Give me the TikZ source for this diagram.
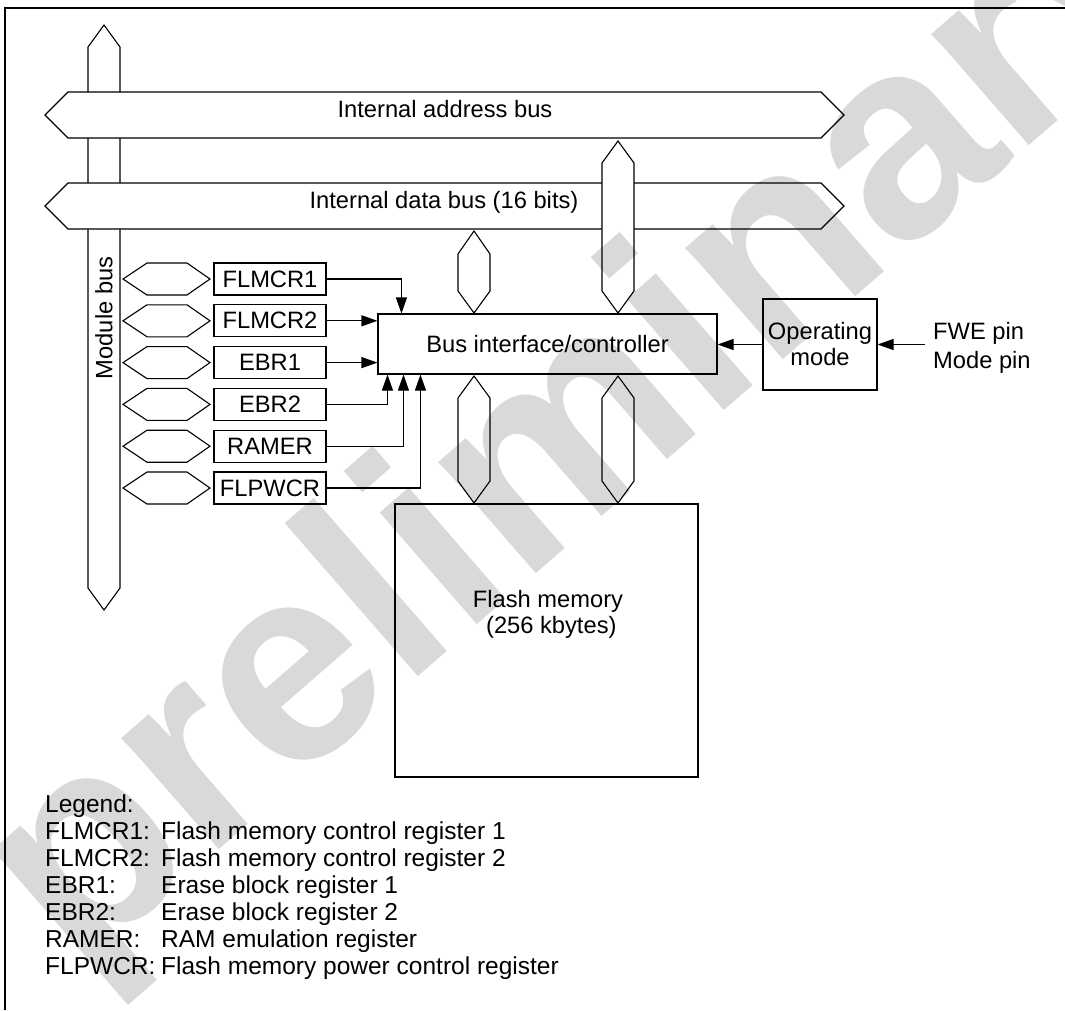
\documentclass[tikz,border=0pt]{standalone}
\usepackage{fontspec}
\setmainfont{Liberation Sans}
\usetikzlibrary{arrows.meta}
\definecolor{wmgray}{RGB}{217,217,217}
\begin{document}
\begin{tikzpicture}[x=1pt,y=-1pt,
  every node/.style={font=\fontsize{23.7}{26}\selectfont, inner sep=0pt},
  bus/.style={line width=1.1pt, fill=white, line join=miter},
  box/.style={draw, line width=1.1pt, fill=white},
  reg/.style={box, minimum width=112pt, minimum height=32pt},
  arr/.style={line width=1.1pt, -{Triangle[length=16pt,width=11pt]}},
  lgl/.style={anchor=mid west, font=\fontsize{24.5}{27}\selectfont},
]
\useasboundingbox (0,0) rectangle (1065,1010);
% frame
\draw[line width=2.2pt] (5,1010) -- (5,8) -- (1065,8);
% module bus (behind horizontal buses)
\draw[bus] (104,25) -- (120,47) -- (120,588) -- (104,610) -- (88,588) -- (88,47) -- cycle;
\node[rotate=90] (modlbl) at (104,318) {Module bus};
% internal address bus
\draw[bus] (45,115) -- (68,92) -- (821,92) -- (844,115) -- (821,138) -- (68,138) -- cycle;
\node[anchor=mid] (addrlbl) at (445,115) {Internal address bus};
% internal data bus
\draw[bus] (45,206) -- (68,183) -- (821,183) -- (844,206) -- (821,229) -- (68,229) -- cycle;
\node[anchor=mid] (datalbl) at (444,206) {Internal data bus (16 bits)};
% vertical bus links
\draw[bus] (618,141) -- (634,163) -- (634,291) -- (618,313) -- (602,291) -- (602,163) -- cycle;
\draw[bus] (474,231) -- (490,254) -- (490,291) -- (474,313) -- (458,291) -- (458,254) -- cycle;
\draw[bus] (474,376) -- (490,398) -- (490,481) -- (474,503) -- (458,481) -- (458,398) -- cycle;
\draw[bus] (618,376) -- (634,398) -- (634,481) -- (618,503) -- (602,481) -- (602,398) -- cycle;
% small module-bus taps
\foreach \c in {279,320.8,362.6,404.4,446.2,488}{
  \draw[bus] (123,\c) -- (147,\c-16) -- (187,\c-16) -- (210,\c) -- (187,\c+16) -- (147,\c+16) -- cycle;
}
% registers
\node[reg] (flmcr1) at (270,279) {FLMCR1};
\node[reg] (flmcr2) at (270,320.8) {FLMCR2};
\node[reg] (ebr1) at (270,362.6) {EBR1};
\node[reg] (ebr2) at (270,404.4) {EBR2};
\node[reg] (ramer) at (270,446.2) {RAMER};
\node[reg] (flpwcr) at (270,488) {FLPWCR};
% bus interface / controller
\node[box, minimum width=339pt, minimum height=60pt] (bic) at (547.5,344) {Bus interface/controller};
% flash memory
\node[box, minimum width=303pt, minimum height=273pt] (flash) at (546.5,640.5) {};
\node[align=center, anchor=center] (flashtxt) at (548,614) {Flash memory\\\hspace*{0.28em}(256 kbytes)};
% operating mode
\node[box, minimum width=114pt, minimum height=91pt, align=center] (opm) at (820,344.5) {Operating\\mode};
\node[anchor=west, align=left] (pins) at (933,347.5) {FWE pin\\[3pt]Mode pin};
\coordinate (pinsrc) at (925,344.5);
% connectors
\draw[arr] (pinsrc) -- (opm.east);
\draw[arr] (opm.west) -- (opm.west -| bic.east);
\draw[arr] (flmcr1.east) -| ([xshift=24pt]bic.north west);
\draw[arr] (flmcr2.east) -- (flmcr2.east -| bic.west);
\draw[arr] (ebr1.east) -- (ebr1.east -| bic.west);
\draw[arr] (ebr2.east) -| ([xshift=10pt]bic.south west);
\draw[arr] (ramer.east) -| ([xshift=26pt]bic.south west);
\draw[arr] (flpwcr.east) -| ([xshift=43pt]bic.south west);
% legend
\node[lgl] (lg0) at (45,810) {Legend:};
\node[lgl] (lg1a) at (45,837) {FLMCR1:};
\node[lgl] (lg1b) at (161,837) {Flash memory control register 1};
\node[lgl] (lg2a) at (45,864) {FLMCR2:};
\node[lgl] (lg2b) at (161,864) {Flash memory control register 2};
\node[lgl] (lg3a) at (45,891) {EBR1:};
\node[lgl] (lg3b) at (161,891) {Erase block register 1};
\node[lgl] (lg4a) at (45,918) {EBR2:};
\node[lgl] (lg4b) at (161,918) {Erase block register 2};
\node[lgl] (lg5a) at (45,945) {RAMER:};
\node[lgl] (lg5b) at (161,945) {RAM emulation register};
\node[lgl] (lg6a) at (45,972) {FLPWCR:};
\node[lgl] (lg6b) at (161,972) {Flash memory power control register};
% watermark
\begin{scope}[blend mode=multiply]
\node[rotate=41, anchor=base west, text=wmgray, font=\fontsize{280}{280}\bfseries\selectfont] (wm) at (75,975) {preliminary};
\end{scope}
\end{tikzpicture}
\end{document}
